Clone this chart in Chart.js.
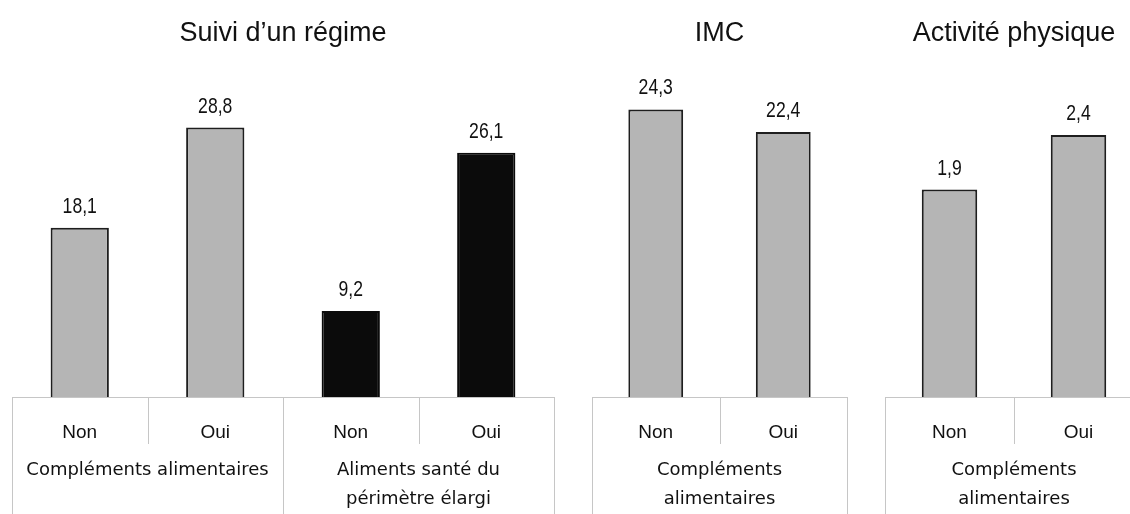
<!DOCTYPE html>
<html>
<head>
<meta charset="utf-8">
<script src="https://cdn.jsdelivr.net/npm/chart.js@4.4.1/dist/chart.umd.min.js"></script>
<style>
  html, body { margin: 0; padding: 0; background: #fff; overflow: hidden; }
  body { width: 1130px; height: 514px; position: relative; }
  .panel { position: absolute; top: 0; height: 514px; }
</style>
</head>
<body>
<div class="panel" style="left:6px;width:554px"><canvas id="regime"></canvas></div>
<div class="panel" style="left:586px;width:267px"><canvas id="imc"></canvas></div>
<div class="panel" style="left:879px;width:270px"><canvas id="activite"></canvas></div>
<script>
// donnees
const titres = ['Suivi d\u2019un r\u00e9gime', 'IMC', 'Activit\u00e9 physique'];

const regimeCategories = ['Non', 'Oui', 'Non', 'Oui'];
const regimeGroupes = ['Compl\u00e9ments alimentaires', ['Aliments sant\u00e9 du', 'p\u00e9rim\u00e8tre \u00e9largi']];
const regimeValeurs = [18.1, 28.8, 9.2, 26.1];

const imcCategories = ['Non', 'Oui'];
const imcGroupes = [['Compl\u00e9ments', 'alimentaires']];
const imcValeurs = [24.3, 22.4];

const activiteCategories = ['Non', 'Oui'];
const activiteGroupes = [['Compl\u00e9ments', 'alimentaires']];
const activiteValeurs = [1.9, 2.4];

Chart.defaults.font.family = '"Liberation Sans", Arial, Helvetica, sans-serif';
Chart.defaults.color = '#111';

// lignes du tableau sous les barres
const lignesTableau = {
  id: 'lignesTableau',
  beforeDatasetsDraw(chart) {
    const sx = chart.scales.x;
    const ctx = chart.ctx;
    const n = chart.data.labels.length;
    const nbGroupes = chart.options.scales.x2.labels.length;
    const parGroupe = n / nbGroupes;
    const w = (sx.right - sx.left) / n;
    ctx.save();
    ctx.strokeStyle = '#c6c6c6';
    ctx.lineWidth = 1;
    ctx.beginPath();
    ctx.moveTo(sx.left, Math.round(sx.top) + 0.5);
    ctx.lineTo(sx.right, Math.round(sx.top) + 0.5);
    for (let i = 0; i <= n; i++) {
      const px = Math.round(sx.left + i * w) + 0.5;
      const bord = i % parGroupe === 0;
      ctx.moveTo(px, sx.top);
      ctx.lineTo(px, bord ? chart.height : sx.top + 47);
    }
    ctx.stroke();
    ctx.restore();
  }
};

// valeurs au-dessus des barres
const valeursBarres = {
  id: 'valeursBarres',
  afterDatasetsDraw(chart) {
    const ctx = chart.ctx;
    const ds = chart.data.datasets[0];
    chart.getDatasetMeta(0).data.forEach(function (bar, i) {
      const txt = ds.data[i].toFixed(1).replace('.', ',');
      ctx.save();
      ctx.translate(bar.x, bar.y - 15);
      ctx.scale(0.8, 1);
      ctx.font = '22px "Liberation Sans", Arial, sans-serif';
      ctx.fillStyle = '#111';
      ctx.textAlign = 'center';
      ctx.textBaseline = 'alphabetic';
      ctx.fillText(txt, 0, 0);
      ctx.restore();
    });
  }
};

function creerGraphique(id, titre, categories, groupes, valeurs, couleurs, bordures, maxY) {
  return new Chart(document.getElementById(id), {
    type: 'bar',
    data: {
      labels: categories,
      datasets: [{
        data: valeurs,
        backgroundColor: couleurs,
        borderColor: bordures,
        borderWidth: 2,
        barPercentage: 0.43,
        categoryPercentage: 1
      }]
    },
    options: {
      responsive: true,
      maintainAspectRatio: false,
      animation: false,
      layout: { padding: { left: 6, right: 6, top: 0, bottom: 0 } },
      plugins: {
        legend: { display: false },
        tooltip: { enabled: false },
        title: {
          display: true,
          text: titre,
          font: { size: 27, weight: 'normal' },
          color: '#111',
          padding: { top: 17, bottom: 50.6 }
        }
      },
      scales: {
        y: { display: false, min: 0, max: maxY },
        x: {
          offset: true,
          grid: { display: false, drawTicks: false },
          border: { display: false },
          ticks: { font: { size: 19 }, color: '#111', padding: 24, maxRotation: 0, autoSkip: false },
          afterFit: function (scale) { scale.height = 52; }
        },
        x2: {
          type: 'category',
          labels: groupes,
          position: 'bottom',
          weight: 1,
          offset: true,
          grid: { display: false, drawTicks: false },
          border: { display: false },
          ticks: { font: { size: 18, family: '"DejaVu Sans", sans-serif', lineHeight: 1.61 }, color: '#111', padding: 7, maxRotation: 0, autoSkip: false },
          afterFit: function (scale) { scale.height = 65; }
        }
      }
    },
    plugins: [lignesTableau, valeursBarres]
  });
}

const gris = '#b5b5b5';
const noir = '#0b0b0b';
const bord = '#1e1e1e';

creerGraphique('regime', titres[0], regimeCategories, regimeGroupes, regimeValeurs,
  [gris, gris, noir, noir], [bord, bord, noir, noir], 31.75);
creerGraphique('imc', titres[1], imcCategories, imcGroupes, imcValeurs,
  [gris, gris], [bord, bord], 25.1);
creerGraphique('activite', titres[2], activiteCategories, activiteGroupes, activiteValeurs,
  [gris, gris], [bord, bord], 2.72);
</script>
</body>
</html>
